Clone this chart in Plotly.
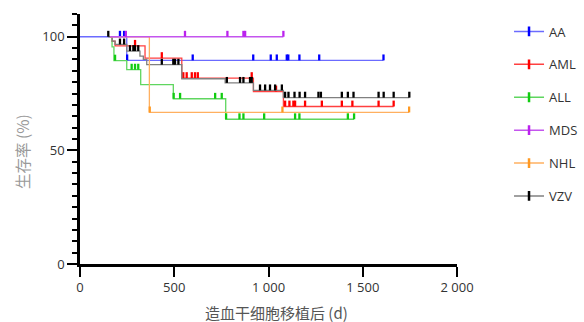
import plotly.graph_objects as go

# ---- data (days, survival %) ----
names = ["AA", "AML", "ALL", "MDS", "NHL", "VZV"]

aa_start = 0
aa_step_t = [248]
aa_step_s = [89.6]
aa_cens = [212, 234, 250, 598, 919, 1012, 1044, 1097, 1105, 1164, 1269, 1610]

aml_start = 159
aml_step_t = [170, 186, 345, 540, 920, 1079]
aml_step_s = [98, 96, 90.6, 81.8, 75.9, 69.3]
aml_cens = [292, 434, 548, 566, 593, 610, 625, 911, 1040, 1088, 1111, 1132, 1141,
            1194, 1283, 1389, 1445, 1584, 1664]

all_start = 165
all_step_t = [170, 180, 248, 322, 495, 773]
all_step_s = [95.5, 89.5, 85.5, 78.9, 72.7, 63.7]
all_cens = [186, 274, 292, 309, 497, 531, 717, 752, 775, 846, 867, 977, 1141, 1164,
            1421, 1454]

mds_start = 160
mds_step_t = []
mds_step_s = []
mds_cens = [243, 557, 782, 867, 876, 1079]

nhl_start = 160
nhl_step_t = [368]
nhl_step_s = [66.7]
nhl_cens = [370, 1074, 1746]

vzv_start = 150
vzv_step_t = [171, 186, 248, 318, 336, 354, 540, 770, 920, 1079]
vzv_step_s = [98.1, 96.6, 93.7, 91.5, 90, 87.7, 81.5, 79.7, 76.4, 73.2]
vzv_cens = [150, 212, 234, 265, 283, 292, 309, 434, 495, 504, 522, 779, 849, 867, 902,
            911, 955, 982, 1008, 1035, 1071, 1088, 1106, 1138, 1165, 1194, 1265, 1278,
            1389, 1421, 1451, 1584, 1611, 1664, 1747]

x_tickvals = [0, 500, 1000, 1500, 2000]
x_ticktext = ["0", "500", "1 000", "1 500", "2 000"]
y_tickvals = [0, 50, 100]

series = {
    "AA": (aa_start, aa_step_t, aa_step_s, aa_cens),
    "AML": (aml_start, aml_step_t, aml_step_s, aml_cens),
    "ALL": (all_start, all_step_t, all_step_s, all_cens),
    "MDS": (mds_start, mds_step_t, mds_step_s, mds_cens),
    "NHL": (nhl_start, nhl_step_t, nhl_step_s, nhl_cens),
    "VZV": (vzv_start, vzv_step_t, vzv_step_s, vzv_cens),
}

line_col = {"AA": "#6b6bff", "AML": "#ff4040", "ALL": "#5fd65f",
            "MDS": "#c455ee", "NHL": "#ffb060", "VZV": "#808080"}
tick_col = {"AA": "#0000ff", "AML": "#ff0000", "ALL": "#11cc11",
            "MDS": "#bb22ee", "NHL": "#ff9922", "VZV": "#000000"}

draw_order = ["AA", "AML", "ALL", "VZV", "NHL", "MDS"]


def surv_at(t, st, ss):
    v = 100.0
    for ti, si in zip(st, ss):
        if ti <= t:
            v = si
    return v


fig = go.Figure()

# legend entries
for i, n in enumerate(names):
    fig.add_trace(go.Scatter(
        x=[None], y=[None], mode="lines+markers", name=n,
        legendgroup=n, legendrank=i + 1,
        line=dict(color=line_col[n], width=1.5),
        marker=dict(symbol="line-ns", size=7,
                    line=dict(color=tick_col[n], width=2.5)),
    ))

for n in draw_order:
    start, st, ss, cens = series[n]
    end = max(cens + st)
    xs = [start] + st + [end]
    ys = [100] + ss + [ss[-1] if ss else 100]
    fig.add_trace(go.Scatter(
        x=xs, y=ys, mode="lines", line=dict(color=line_col[n], width=1.3, shape="hv"),
        showlegend=False, legendgroup=n, hoverinfo="skip"))
    cy = [surv_at(t, st, ss) for t in cens]
    fig.add_trace(go.Scatter(
        x=cens, y=cy, mode="markers", marker=dict(size=0.1, color=tick_col[n]),
        error_y=dict(type="data", symmetric=False, array=[2.6] * len(cens),
                     arrayminus=[0] * len(cens), color=tick_col[n], thickness=2.3,
                     width=0),
        showlegend=False, legendgroup=n, hoverinfo="skip"))

fig.update_layout(
    width=584, height=322,
    margin=dict(l=80, r=127, t=14, b=58, autoexpand=False),
    paper_bgcolor="white", plot_bgcolor="white",
    font=dict(family="Open Sans, Noto Sans CJK SC", size=13, color="#333"),
    showlegend=True,
    legend=dict(x=1.138, y=0.99, xanchor="left", yanchor="top",
                tracegroupgap=13, font=dict(size=13, color="#333"),
                bgcolor="rgba(0,0,0,0)", itemwidth=30),
    xaxis=dict(range=[0, 2000], tickvals=x_tickvals, ticktext=x_ticktext,
               showline=True, linewidth=2.5, linecolor="black",
               ticks="outside", ticklen=10, tickwidth=2, tickcolor="black",
               showgrid=False, zeroline=False),
    yaxis=dict(range=[0, 110], tickvals=y_tickvals,
               showline=True, linewidth=2.5, linecolor="black",
               ticks="outside", ticklen=10, tickwidth=2, tickcolor="black",
               minor=dict(dtick=5, ticks="outside", ticklen=5, tickwidth=2,
                          tickcolor="black"),
               showgrid=False, zeroline=False),
    annotations=[
        dict(text="生存率 (%)", textangle=-90, xref="paper", yref="paper",
             x=-0.155, y=0.45, xanchor="center", yanchor="middle", showarrow=False,
             font=dict(family="Noto Sans CJK SC", size=15.5, color="#999")),
        dict(text="造血干细胞移植后 (d)", xref="paper", yref="paper",
             x=0.52, y=-0.192, xanchor="center", yanchor="middle", showarrow=False,
             font=dict(family="Noto Sans CJK SC", size=15, color="#555")),
    ],
)

fig.write_html("out.html", config={"displayModeBar": False},
               post_script="document.body.style.margin='0';document.body.style.overflow='hidden';")
